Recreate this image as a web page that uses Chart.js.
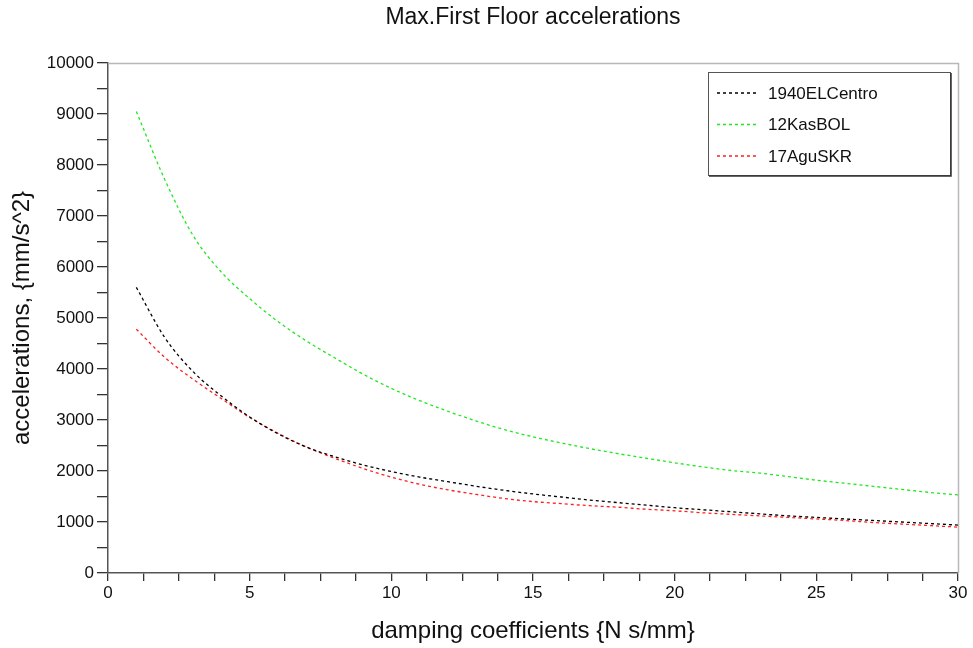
<!DOCTYPE html>
<html>
<head>
<meta charset="utf-8">
<title>Max.First Floor accelerations</title>
<script src="https://cdn.jsdelivr.net/npm/chart.js@4.4.1/dist/chart.umd.min.js"></script>
<style>
  html, body { margin: 0; padding: 0; background: #fff; }
  #wrap { width: 973px; height: 648px; }
</style>
</head>
<body>
<div id="wrap"><canvas id="c" width="973" height="648"></canvas></div>
<script>
// Damping coefficients (N s/mm)
const damping = [1, 2, 3, 4, 5, 6, 7, 8, 9, 10, 11, 12, 13, 14, 15,
                 16, 17, 18, 19, 20, 21, 22, 23, 24, 25, 26, 27, 28, 29, 30];

// Maximum first-floor accelerations (mm/s^2) per record
const elCentro1940 = [5600, 4620, 3950, 3470, 3060, 2730, 2470, 2280, 2120, 1990,
                      1880, 1790, 1700, 1620, 1550, 1490, 1430, 1380, 1330, 1280,
                      1240, 1200, 1160, 1120, 1090, 1060, 1030, 1000, 970, 940];
const kasBOL12 = [9050, 7720, 6620, 5900, 5380, 4930, 4550, 4220, 3900, 3620,
                  3380, 3170, 2980, 2810, 2670, 2550, 2440, 2340, 2250, 2160,
                  2080, 2010, 1960, 1890, 1820, 1760, 1700, 1640, 1580, 1530];
const aguSKR17 = [4780, 4230, 3800, 3420, 3050, 2740, 2470, 2250, 2050, 1880,
                  1740, 1630, 1540, 1460, 1400, 1360, 1320, 1290, 1250, 1220,
                  1180, 1150, 1120, 1090, 1060, 1030, 990, 960, 930, 900];

const seriesNames = ['1940ELCentro', '12KasBOL', '17AguSKR'];
const seriesValues = [elCentro1940, kasBOL12, aguSKR17];
const seriesColors = ['#000000', '#1fe81f', '#ff1f1f'];

const FONT = "'Liberation Sans', Arial, Helvetica, sans-serif";

const datasets = seriesNames.map((name, i) => ({
  label: name,
  data: damping.map((x, j) => ({ x: x, y: seriesValues[i][j] })),
  borderColor: seriesColors[i],
  backgroundColor: seriesColors[i],
  borderWidth: 1.3,
  borderDash: [3, 3],
  pointRadius: 0,
  tension: 0.4,
  cubicInterpolationMode: 'monotone',
  fill: false
}));

// Light frame on the top and right of the plot area
const framePlugin = {
  id: 'frame',
  beforeDatasetsDraw(chart) {
    const { ctx, chartArea: a } = chart;
    ctx.save();
    ctx.strokeStyle = '#b8b8b8';
    ctx.lineWidth = 1.5;
    ctx.beginPath();
    ctx.moveTo(a.left, a.top + 0.5);
    ctx.lineTo(a.right + 0.5, a.top + 0.5);
    ctx.lineTo(a.right + 0.5, a.bottom);
    ctx.stroke();
    ctx.restore();
  }
};

// Boxed legend in the upper right corner of the plot
const boxLegend = {
  id: 'boxLegend',
  afterDraw(chart) {
    const { ctx, chartArea: a } = chart;
    const x0 = a.right - 250, y0 = a.top + 9, w = 242, h = 103;
    ctx.save();
    ctx.fillStyle = '#ffffff';
    ctx.fillRect(x0, y0, w, h);
    ctx.strokeStyle = '#555';
    ctx.lineWidth = 1;
    ctx.strokeRect(x0 + 0.5, y0 + 0.5, w, h);
    ctx.strokeStyle = '#333';
    ctx.lineWidth = 1.5;
    ctx.beginPath();
    ctx.moveTo(x0 + w + 1, y0 + 1);
    ctx.lineTo(x0 + w + 1, y0 + h + 1);
    ctx.lineTo(x0 + 1, y0 + h + 1);
    ctx.stroke();
    chart.data.datasets.forEach((ds, i) => {
      const y = y0 + 21 + i * 31.5;
      ctx.strokeStyle = ds.borderColor;
      ctx.lineWidth = 1.3;
      ctx.setLineDash([3, 3]);
      ctx.beginPath();
      ctx.moveTo(x0 + 9, y);
      ctx.lineTo(x0 + 50, y);
      ctx.stroke();
      ctx.setLineDash([]);
      ctx.fillStyle = '#111';
      ctx.font = '17px ' + FONT;
      ctx.textAlign = 'left';
      ctx.textBaseline = 'middle';
      ctx.fillText(ds.label, x0 + 60, y + 1);
    });
    ctx.restore();
  }
};

new Chart(document.getElementById('c'), {
  type: 'line',
  data: { datasets: datasets },
  options: {
    responsive: false,
    animation: false,
    devicePixelRatio: 1,
    layout: { padding: { left: 0, right: 15, top: 0, bottom: 0 } },
    plugins: {
      legend: { display: false },
      tooltip: { enabled: false },
      title: {
        display: true,
        text: 'Max.First Floor accelerations',
        fullSize: false,
        color: '#111',
        font: { family: FONT, size: 23, weight: 'normal' },
        padding: { top: 4, bottom: 31.4 }
      }
    },
    scales: {
      x: {
        type: 'linear',
        min: 0,
        max: 30,
        afterFit(scale) { scale.height = 75; },
        ticks: {
          stepSize: 1.25,
          autoSkip: false,
          maxRotation: 0,
          padding: 2,
          color: '#111',
          font: { family: FONT, size: 17 },
          callback: v => (Math.abs(v % 5) < 1e-9 ? String(v) : '')
        },
        grid: {
          drawOnChartArea: false,
          drawTicks: true,
          tickLength: 8,
          color: '#333',
          lineWidth: 1.3
        },
        border: { display: true, color: '#555', width: 1.5 },
        title: {
          display: true,
          text: 'damping coefficients {N s/mm}',
          color: '#111',
          font: { family: FONT, size: 24 },
          padding: { top: 0, bottom: 2.6 }
        }
      },
      y: {
        type: 'linear',
        min: 0,
        max: 10000,
        afterFit(scale) { scale.width = 108; },
        ticks: {
          stepSize: 500,
          autoSkip: false,
          padding: 3,
          color: '#111',
          font: { family: FONT, size: 17 },
          callback: v => (v % 1000 === 0 ? String(v) : '')
        },
        grid: {
          drawOnChartArea: false,
          drawTicks: true,
          tickLength: 11,
          color: '#333',
          lineWidth: 1.3
        },
        border: { display: true, color: '#555', width: 1.5 },
        title: {
          display: true,
          text: 'accelerations, {mm/s^2}',
          color: '#111',
          font: { family: FONT, size: 24 },
          padding: { top: 7.6, bottom: 0 }
        }
      }
    }
  },
  plugins: [framePlugin, boxLegend]
});
</script>
</body>
</html>
